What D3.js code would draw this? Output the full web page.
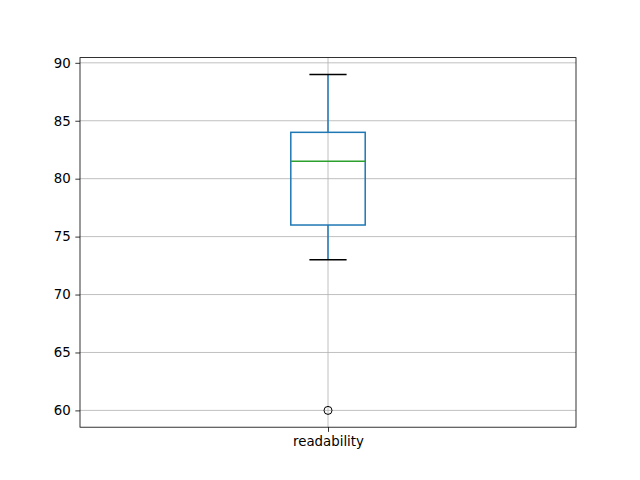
<!DOCTYPE html>
<html>
<head>
<meta charset="utf-8">
<script src="https://cdn.jsdelivr.net/npm/d3@7"></script>
<style>
  body { margin: 0; background: #fff; }
  text { font-family: "DejaVu Sans", sans-serif; }
</style>
</head>
<body>
<script>
// data
const categories = ["readability"];
const q1 = [76];
const medians = [81.5];
const q3 = [84];
const whiskerLow = [73];
const whiskerHigh = [89];
const outliers = [[60]];
const yTicks = [60, 65, 70, 75, 80, 85, 90];

const W = 640, H = 480;
const margin = {top: 57.6, right: 64, bottom: 52.8, left: 80},
    width = W - margin.left - margin.right,
    height = H - margin.top - margin.bottom;

const svg = d3.select("body").append("svg")
    .attr("width", W)
    .attr("height", H);

const g = svg.append("g")
    .attr("transform", "translate(" + margin.left + "," + margin.top + ")");

const x = d3.scaleLinear().domain([0.5, categories.length + 0.5]).range([0, width]);
const y = d3.scaleLinear().domain([58.55, 90.45]).range([height, 0]);

// grid
g.selectAll(".ygrid").data(yTicks).enter().append("line")
    .attr("x1", 0).attr("x2", width)
    .attr("y1", d => y(d)).attr("y2", d => y(d))
    .attr("stroke", "#b0b0b0").attr("stroke-width", 0.8);
g.selectAll(".xgrid").data(categories).enter().append("line")
    .attr("x1", (d, i) => x(i + 1)).attr("x2", (d, i) => x(i + 1))
    .attr("y1", 0).attr("y2", height)
    .attr("stroke", "#b0b0b0").attr("stroke-width", 0.8);

const boxW = x(1.075) - x(0.925);
const capW = boxW / 2;

categories.forEach(function (c, i) {
    const cx = x(i + 1);
    // whiskers
    g.append("line").attr("x1", cx).attr("x2", cx)
        .attr("y1", y(q3[i])).attr("y2", y(whiskerHigh[i]))
        .attr("stroke", "#1f77b4").attr("stroke-width", 1.5);
    g.append("line").attr("x1", cx).attr("x2", cx)
        .attr("y1", y(q1[i])).attr("y2", y(whiskerLow[i]))
        .attr("stroke", "#1f77b4").attr("stroke-width", 1.5);
    // caps
    [whiskerHigh[i], whiskerLow[i]].forEach(function (v) {
        g.append("line").attr("x1", cx - capW / 2).attr("x2", cx + capW / 2)
            .attr("y1", y(v)).attr("y2", y(v))
            .attr("stroke", "#000").attr("stroke-width", 1.5);
    });
    // box
    g.append("rect")
        .attr("x", cx - boxW / 2).attr("width", boxW)
        .attr("y", y(q3[i])).attr("height", y(q1[i]) - y(q3[i]))
        .attr("fill", "none").attr("stroke", "#1f77b4").attr("stroke-width", 1.5);
    // median
    g.append("line").attr("x1", cx - boxW / 2).attr("x2", cx + boxW / 2)
        .attr("y1", y(medians[i])).attr("y2", y(medians[i]))
        .attr("stroke", "#2ca02c").attr("stroke-width", 1.5);
    // fliers
    g.selectAll(".flier" + i).data(outliers[i]).enter().append("circle")
        .attr("cx", cx).attr("cy", d => y(d)).attr("r", 4)
        .attr("fill", "none").attr("stroke", "#000").attr("stroke-width", 1);
});

// axes
const yAxis = g.append("g")
    .call(d3.axisLeft(y).tickValues(yTicks).tickSize(4.67).tickPadding(4.67));
const xAxis = g.append("g")
    .attr("transform", "translate(0," + height + ")")
    .call(d3.axisBottom(x).tickValues(categories.map((d, i) => i + 1))
        .tickFormat((d, i) => categories[i]).tickSize(4.67).tickPadding(4.67));
[yAxis, xAxis].forEach(function (a) {
    a.select(".domain").remove();
    a.selectAll("line").attr("stroke", "#000").attr("stroke-width", 0.8);
    a.selectAll("text").attr("font-size", "13.33px").attr("fill", "#000")
        .style("font-family", "DejaVu Sans, sans-serif");
});

// frame
g.append("rect")
    .attr("x", 0).attr("y", 0).attr("width", width).attr("height", height)
    .attr("fill", "none").attr("stroke", "#000").attr("stroke-width", 0.8);
</script>
</body>
</html>
